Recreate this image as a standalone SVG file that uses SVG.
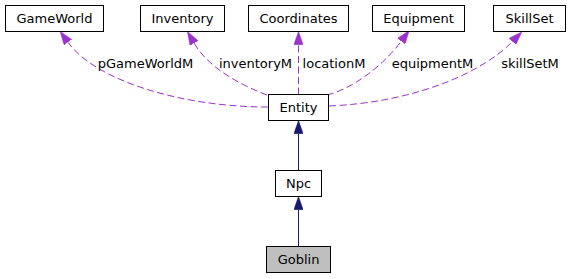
<svg xmlns="http://www.w3.org/2000/svg" width="570" height="279" viewBox="0 0 570 279">
  <style>
    .box { fill: #ffffff; stroke: #000000; stroke-width: 1; }
    .root { fill: #bfbfbf; }
    text { font-family: "DejaVu Sans", "Liberation Sans", sans-serif; font-size: 13px; fill: #000000; }
    .node text { text-anchor: middle; }
    .label { text-anchor: middle; }
    .use { fill: none; stroke: #9a32cd; stroke-width: 1; stroke-dasharray: 7,3.5; marker-end: url(#headUse); }
    .inherit { fill: none; stroke: #191970; stroke-width: 1; marker-end: url(#headInherit); }
  </style>
  <defs>
    <marker id="headUse" viewBox="0 0 13.3 9.4" refX="0" refY="4.7" markerUnits="userSpaceOnUse" markerWidth="13.3" markerHeight="9.4" orient="auto">
      <path d="M0,0 L13.3,4.7 L0,9.4 Z" fill="#9a32cd" stroke="#9a32cd" stroke-width="0.5" stroke-dasharray="none"/>
    </marker>
    <marker id="headInherit" viewBox="0 0 13.3 9.4" refX="0" refY="4.7" markerUnits="userSpaceOnUse" markerWidth="13.3" markerHeight="9.4" orient="auto">
      <path d="M0,0 L13.3,4.7 L0,9.4 Z" fill="#191970" stroke="#191970" stroke-width="0.5"/>
    </marker>
  </defs>

  <!-- connectors: member usage (dashed) and inheritance (solid) -->
  <g id="edges">
    <path class="use" d="M268,107 C180,107 95,80 67.9,42.2"/>
    <path class="use" d="M267,95 C238,84 208,67 194.1,43.1"/>
    <path class="use" d="M298.5,94.5 L298.5,44.8"/>
    <path class="use" d="M327,95 C352,89 383,66 401.3,41.2"/>
    <path class="use" d="M329,106 C420,102 485,70 512.5,41.5"/>
    <path class="inherit" d="M298.5,170.5 L298.5,133.8"/>
    <path class="inherit" d="M298.5,246.5 L298.5,209.8"/>
    <text class="label" x="145.5" y="68">pGameWorldM</text>
    <text class="label" x="255.5" y="68">inventoryM</text>
    <text class="label" x="334" y="68">locationM</text>
    <text class="label" x="432.5" y="68">equipmentM</text>
    <text class="label" x="530" y="68">skillSetM</text>
  </g>

  <g id="GameWorld" class="node">
    <rect class="box" x="5.5" y="5.5" width="98" height="26"/>
    <text x="54.5" y="22.5">GameWorld</text>
  </g>
  <g id="Inventory" class="node">
    <rect class="box" x="140.5" y="5.5" width="84" height="26"/>
    <text x="182.5" y="22.5">Inventory</text>
  </g>
  <g id="Coordinates" class="node">
    <rect class="box" x="248.5" y="5.5" width="100" height="26"/>
    <text x="298.5" y="22.5">Coordinates</text>
  </g>
  <g id="Equipment" class="node">
    <rect class="box" x="372.5" y="5.5" width="92" height="26"/>
    <text x="418.5" y="22.5">Equipment</text>
  </g>
  <g id="SkillSet" class="node">
    <rect class="box" x="493.5" y="5.5" width="72" height="26"/>
    <text x="529.5" y="22.5">SkillSet</text>
  </g>
  <g id="Entity" class="node">
    <rect class="box" x="268.5" y="94.5" width="60" height="26"/>
    <text x="298.5" y="111.5">Entity</text>
  </g>
  <g id="Npc" class="node">
    <rect class="box" x="275.5" y="170.5" width="46" height="26"/>
    <text x="298.5" y="187.5">Npc</text>
  </g>
  <g id="Goblin" class="node">
    <rect class="box root" x="266.5" y="246.5" width="64" height="26"/>
    <text x="298.5" y="263.5">Goblin</text>
  </g>
</svg>
